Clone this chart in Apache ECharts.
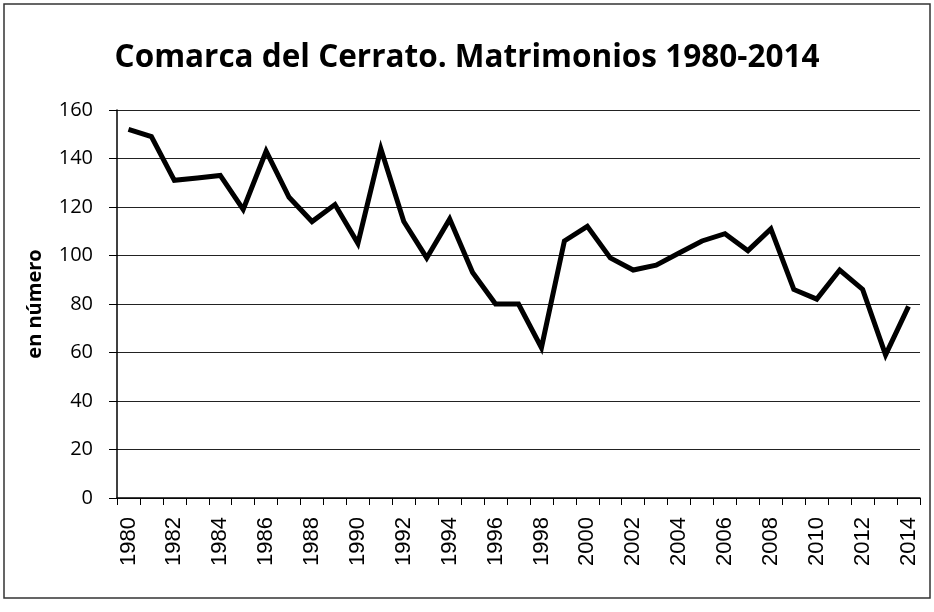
<!DOCTYPE html>
<html>
<head>
<meta charset="utf-8">
<script src="https://cdn.jsdelivr.net/npm/echarts@6/dist/echarts.min.js"></script>
<style>
  html, body { margin: 0; padding: 0; background: #fff; }
  #chart { width: 934px; height: 612px; }
</style>
</head>
<body>
<div id="chart"></div>
<script>
// años y matrimonios
const years = [];
for (let y = 1980; y <= 2014; y++) years.push(String(y));
const matrimonios = [152, 149, 131, 132, 133, 119, 143, 124, 114, 121,
  105, 144, 114, 99, 115, 93, 80, 80, 62, 106,
  112, 99, 94, 96, 101, 106, 109, 102, 111, 86,
  82, 94, 86, 59, 79];

const chart = echarts.init(document.getElementById('chart'));

const option = {
  animation: false,
  backgroundColor: '#fff',
  title: {
    text: 'Comarca del Cerrato. Matrimonios 1980-2014',
    left: 'center',
    top: 37,
    textStyle: {
      fontFamily: 'Open Sans',
      fontWeight: 'bold',
      fontSize: 31.5,
      color: '#000'
    }
  },
  graphic: [{
    type: 'rect',
    shape: { x: 4, y: 4, width: 926, height: 594 },
    style: { fill: 'none', stroke: '#333', lineWidth: 1.5 }
  }],
  grid: { left: 117, right: 14, top: 110, bottom: 114 },
  xAxis: {
    type: 'category',
    data: years,
    boundaryGap: true,
    axisLine: { lineStyle: { color: '#000', width: 1.5 } },
    axisTick: { show: true, length: 7, lineStyle: { color: '#000' }, interval: 0 },
    axisLabel: {
      interval: 1,
      rotate: 90,
      color: '#000',
      fontFamily: 'Liberation Sans',
      fontSize: 22,
      margin: 19
    }
  },
  yAxis: {
    type: 'value',
    min: 0,
    max: 160,
    interval: 20,
    name: 'en número',
    nameLocation: 'middle',
    nameGap: 72,
    nameRotate: 90,
    nameTextStyle: {
      fontFamily: 'Open Sans',
      fontWeight: 'bold',
      fontSize: 20,
      color: '#000'
    },
    axisLine: { show: true, lineStyle: { color: '#000', width: 1.5 } },
    axisTick: { show: true, length: 8, lineStyle: { color: '#000' } },
    axisLabel: {
      color: '#000',
      fontFamily: 'Open Sans',
      fontSize: 20,
      margin: 24
    },
    splitLine: { lineStyle: { color: '#222', width: 1.2 } }
  },
  series: [{
    type: 'line',
    data: matrimonios,
    showSymbol: false,
    symbol: 'none',
    lineStyle: { color: '#000', width: 5, join: 'miter' }
  }]
};

chart.setOption(option);
</script>
</body>
</html>
